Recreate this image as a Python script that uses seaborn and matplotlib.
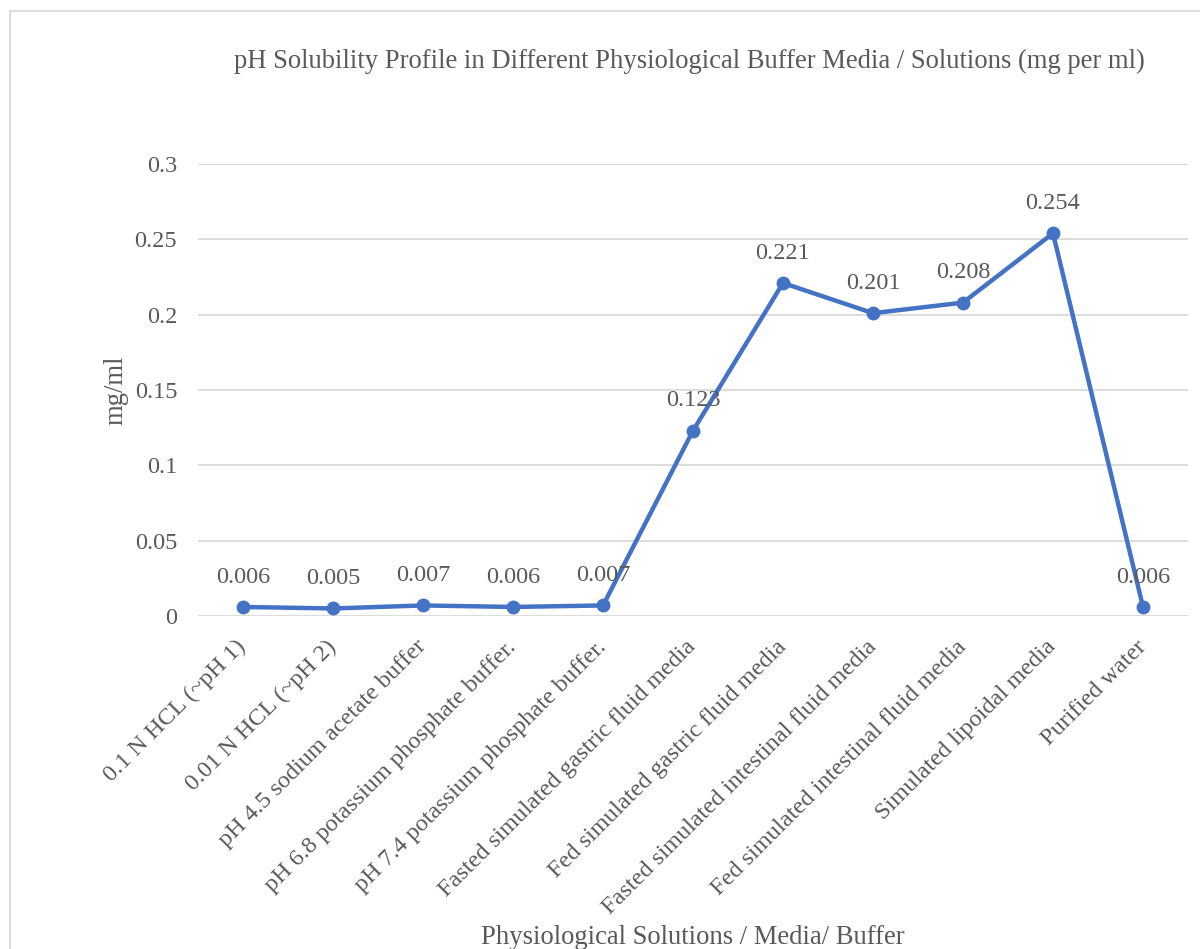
import matplotlib
matplotlib.use("Agg")
import matplotlib.pyplot as plt
import seaborn as sns
import pandas as pd
from matplotlib.patches import Rectangle

categories = [
    "0.1 N HCL (~pH 1)",
    "0.01 N HCL (~pH 2)",
    "pH 4.5 sodium acetate buffer",
    "pH 6.8 potassium phosphate buffer.",
    "pH 7.4 potassium phosphate buffer.",
    "Fasted simulated gastric fluid media",
    "Fed simulated gastric fluid media",
    "Fasted simulated intestinal fluid media",
    "Fed simulated intestinal fluid media",
    "Simulated lipoidal media",
    "Purified water",
]
values = [0.006, 0.005, 0.007, 0.006, 0.007, 0.123, 0.221, 0.201, 0.208, 0.254, 0.006]
value_labels = ["0.006", "0.005", "0.007", "0.006", "0.007", "0.123", "0.221", "0.201", "0.208", "0.254", "0.006"]
y_ticks = [0, 0.05, 0.1, 0.15, 0.2, 0.25, 0.3]
y_tick_labels = ["0", "0.05", "0.1", "0.15", "0.2", "0.25", "0.3"]

title = "pH Solubility Profile in Different Physiological Buffer Media / Solutions (mg per ml)"
x_label = "Physiological Solutions / Media/ Buffer"
y_label = "mg/ml"

sns.set_theme(style="white")
plt.rcParams["font.family"] = ["Liberation Serif", "DejaVu Serif"]

TEXT = "#595959"
LINE = "#4472C4"
GRID = "#D9D9D9"

fig = plt.figure(figsize=(12, 9.49), dpi=100)
ax = fig.add_axes([198 / 1200, 333 / 949, 990 / 1200, 452 / 949])

df = pd.DataFrame({"cat": categories, "val": values})
sns.lineplot(data=df, x="cat", y="val", sort=False, ax=ax, color=LINE,
             linewidth=3.2, marker="o", markersize=10, markeredgewidth=0,
             markeredgecolor=LINE)

ax.set_xlim(-0.5, len(categories) - 0.5)
ax.set_ylim(0, 0.3)
ax.set_yticks(y_ticks)
ax.set_yticklabels(y_tick_labels)
ax.yaxis.grid(True, color=GRID, linewidth=1.3)
ax.set_axisbelow(True)
for s in ax.spines.values():
    s.set_visible(False)

ax.tick_params(axis="y", length=0, pad=15, labelsize=17.5, labelcolor=TEXT)
ax.tick_params(axis="x", length=0, pad=20, labelsize=17.5, labelcolor=TEXT)
ax.set_xticks(range(len(categories)))
ax.set_xticklabels(categories, rotation=45, ha="right", va="center",
                   rotation_mode="anchor")

for i, (v, lab) in enumerate(zip(values, value_labels)):
    ax.annotate(lab, (i, v), xytext=(0, 21.5), textcoords="offset points",
                ha="center", va="center", fontsize=17.5, color=TEXT)

ax.set_xlabel(x_label, fontsize=19.2, color=TEXT)
ax.xaxis.set_label_coords(0.5, -0.712)
ax.xaxis.label.set_va("center")
ax.set_ylabel(y_label, fontsize=19.2, color=TEXT)
ax.yaxis.set_label_coords(-0.0828, 0.5)
ax.yaxis.label.set_va("center")

ax.text(0.496, 1.226, title, transform=ax.transAxes, ha="center", va="center",
        fontsize=19.2, color=TEXT)

fig.patches.append(Rectangle((10 / 1200, -0.1), 1.2, 1 - 11 / 949 + 0.1,
                             transform=fig.transFigure, fill=False,
                             edgecolor=GRID, linewidth=1.3, clip_on=False))

fig.savefig("out.png", dpi=100)
